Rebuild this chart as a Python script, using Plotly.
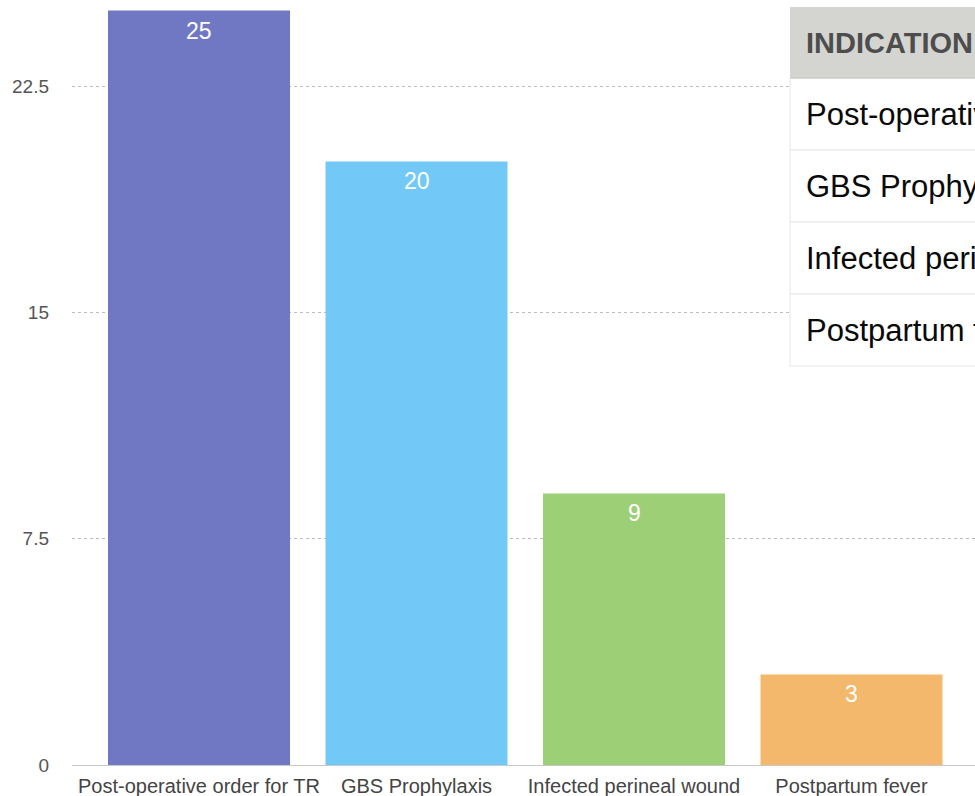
import plotly.graph_objects as go

# Antibiotic indications and their counts
categories = [
    "Post-operative order for TR",
    "GBS Prophylaxis",
    "Infected perineal wound",
    "Postpartum fever",
]
counts = [25, 20, 9, 3]
bar_colors = ["#7078c4", "#72c9f7", "#9dcf76", "#f3b86b"]
y_ticks = [0, 7.5, 15, 22.5]
y_tick_labels = ["0", "7.5", "15", "22.5"]
table_header = "INDICATION"

W, H = 975, 796
L, R, T, B = 72, 0, 0, 31
plot_w = W - L - R
plot_h = H - T - B
FONT = "Liberation Sans, Arial, sans-serif"


def px_x(px):
    return (px - L) / plot_w


def px_y(py):
    return 1 - (py - T) / plot_h


fig = go.Figure()
fig.add_trace(go.Bar(
    x=categories,
    y=counts,
    marker=dict(color=bar_colors, line=dict(width=0)),
    hoverinfo="x+y",
))

# value labels just inside the top of each bar
annotations = []
for cat, val in zip(categories, counts):
    annotations.append(dict(
        x=cat, y=val, xref="x", yref="y", text=str(val), showarrow=False,
        yanchor="middle", yshift=-20,
        font=dict(family=FONT, size=23, color="#ffffff"),
    ))

# summary table overlaid on the right
shapes = []
tbl_left, tbl_top = 790, 7
header_h, row_h = 71, 72
text_x = 804
shapes.append(dict(
    type="rect", xref="paper", yref="paper", layer="above",
    x0=px_x(tbl_left), x1=px_x(W + 50), y0=px_y(tbl_top + header_h), y1=px_y(tbl_top),
    fillcolor="#d4d4d0", line=dict(width=0),
))
annotations.append(dict(
    x=px_x(text_x), y=px_y(tbl_top + header_h / 2), xref="paper", yref="paper",
    xanchor="left", yanchor="middle", showarrow=False, text="<b>" + table_header + "</b>",
    font=dict(family=FONT, size=29, color="#4d4d4d"),
))
for i, cat in enumerate(categories):
    top = tbl_top + header_h + i * row_h
    shapes.append(dict(
        type="rect", xref="paper", yref="paper", layer="above",
        x0=px_x(tbl_left), x1=px_x(W + 50), y0=px_y(top + row_h), y1=px_y(top),
        fillcolor="#ffffff", line=dict(color="#e6e6e6", width=1),
    ))
    annotations.append(dict(
        x=px_x(text_x), y=px_y(top + row_h / 2), xref="paper", yref="paper",
        xanchor="left", yanchor="middle", showarrow=False, text=cat,
        font=dict(family=FONT, size=31, color="#0a0a0a"),
    ))
shapes.append(dict(
    type="line", xref="paper", yref="paper", layer="above",
    x0=px_x(tbl_left), x1=px_x(W + 50),
    y0=px_y(tbl_top + header_h), y1=px_y(tbl_top + header_h),
    line=dict(color="#bdbdbd", width=1),
))

band = 217.5
first_center = 199
x_lo = -(first_center - L) / band
x_hi = x_lo + plot_w / band
y_hi = plot_h / ((765 - 86) / 22.5)

fig.update_layout(
    width=W, height=H,
    margin=dict(l=L, r=R, t=T, b=B, pad=0),
    paper_bgcolor="#ffffff", plot_bgcolor="#ffffff",
    bargap=1 - 182 / band,
    showlegend=False,
    font=dict(family=FONT),
    xaxis=dict(
        range=[x_lo, x_hi], showgrid=False, showline=True, linecolor="#c8c8c8",
        linewidth=1, ticks="", tickfont=dict(size=20, color="#444444"),
        ticklabelstandoff=3, fixedrange=True,
    ),
    yaxis=dict(
        range=[0, y_hi], tickvals=y_ticks, ticktext=y_tick_labels,
        showgrid=True, gridcolor="#bdbdbd", griddash="dot", gridwidth=1,
        zeroline=False, showline=False, ticks="",
        tickfont=dict(size=19, color="#555555"), ticklabelstandoff=22,
        fixedrange=True,
    ),
    shapes=shapes,
    annotations=annotations,
)

fig.write_html("out.html", config={"displayModeBar": False})
